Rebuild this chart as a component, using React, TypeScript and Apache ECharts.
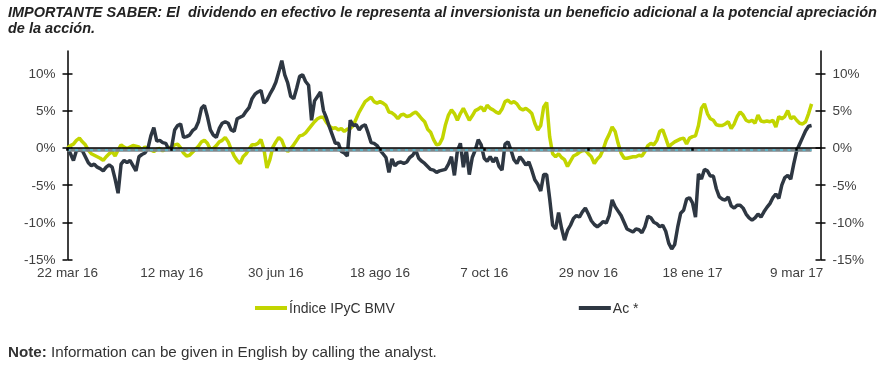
import React, { useEffect, useRef } from 'react';
import * as echarts from 'echarts';

const tickLabels = ['22 mar 16', '12 may 16', '30 jun 16', '18 ago 16', '7 oct 16', '29 nov 16', '18 ene 17', '9 mar 17'];
const labelStep = 35;
const categoryCount = 254;
const categories = Array.from({ length: categoryCount }, (_, i) => String(i));
const yTicks = [-15, -10, -5, 0, 5, 10];
const seriesNames = ['Índice IPyC BMV', 'Ac *'];

const ipyc = [
  0.0, 0.3, 0.5, 1.0, 1.3, 0.8, 0.4, -0.3, -0.8, -1.0,
  -1.2, -1.4, -1.7, -1.2, -0.8, -0.5, -1.1, -0.3, 0.4, 0.1,
  -0.1, 0.1, 0.3, 0.2, 0.1, -0.3, 0.1, -0.1, -0.3, -0.5,
  -0.2, -0.1, -0.4, -0.2, 0.0, 0.1, 0.4, 0.5, 0.0, -0.7,
  -1.1, -1.0, -0.6, -0.2, 0.2, 0.8, 1.0, 0.6, -0.2, -0.1,
  0.3, 0.8, 1.0, 1.4, 0.8, -0.2, -1.1, -1.7, -2.1, -1.2,
  -0.8, -0.2, 0.4, 0.4, 0.6, 1.1, -0.2, -2.7, -1.6, 0.1,
  0.8, 1.4, 1.0, 0.0, -0.5, -0.1, 0.4, 1.0, 1.6, 1.7,
  2.0, 2.5, 3.0, 3.5, 3.9, 4.1, 4.1, 3.4, 2.9, 2.6,
  2.7, 2.4, 2.6, 2.2, 2.5, 2.6, 3.0, 3.9, 4.8, 5.5,
  6.2, 6.5, 6.8, 6.2, 6.0, 6.2, 6.0, 5.7, 4.8, 4.7,
  4.4, 3.9, 4.4, 4.5, 4.2, 4.3, 4.6, 4.8, 4.4, 3.9,
  3.5, 2.5, 2.1, 1.1, 0.4, 0.5, 1.3, 3.1, 4.4, 5.1,
  4.6, 3.7, 4.6, 5.3, 4.5, 3.7, 4.3, 5.0, 5.2, 5.5,
  4.9, 5.7, 5.3, 5.1, 4.8, 4.6, 5.2, 6.2, 6.4, 6.0,
  6.2, 5.9, 5.3, 5.1, 5.3, 5.0, 4.6, 3.3, 2.4, 3.0,
  5.5, 6.1, 1.5, -0.8, -1.2, -0.8, -1.3, -1.6, -2.5, -1.8,
  -1.1, -0.9, -0.6, -0.4, -0.3, -0.8, -1.2, -2.1, -1.5, -1.1,
  -0.2, 1.0, 1.8, 2.8, 2.2, 0.6, -0.7, -1.4, -1.4, -1.3,
  -1.2, -1.2, -1.0, -1.1, -0.5, 0.3, 0.6, 0.4, 1.0, 2.2,
  2.4, 1.3, 0.1, 0.5, 0.8, 1.0, 1.2, 1.3, 0.5, 1.3,
  1.5, 1.6, 3.0, 5.3, 5.9, 4.6, 3.9, 3.7, 3.1, 3.0,
  3.0, 3.2, 3.5, 2.6, 3.2, 4.2, 4.8, 4.4, 3.7, 3.5,
  3.7, 3.3, 4.4, 3.6, 3.5, 3.6, 3.5, 3.7, 2.8, 4.2,
  3.9, 4.2, 5.0, 3.9, 4.2, 3.7, 3.3, 3.2, 3.5, 4.6,
  5.9,
];

const ac = [
  0.0, -0.8, -1.7, -0.4, -0.3, -0.4, -1.2, -2.0, -2.4, -2.2,
  -2.6, -2.8, -3.1, -2.6, -2.3, -2.6, -4.2, -6.1, -2.2, -1.7,
  -2.0, -1.7, -2.4, -3.1, -1.2, -0.9, -0.7, -0.1, 1.6, 2.7,
  0.9, 1.0, 0.7, 0.6, -0.2, 0.1, 2.4, 3.0, 3.2, 1.4,
  1.5, 1.7, 2.3, 2.6, 3.5, 5.3, 5.7, 4.2, 2.4, 1.7,
  1.4, 2.6, 3.3, 3.5, 3.3, 2.4, 2.2, 3.9, 4.1, 4.3,
  4.9, 5.4, 6.6, 7.2, 7.5, 7.7, 6.0, 6.4, 7.2, 7.9,
  8.8, 10.2, 11.7, 9.8, 8.7, 6.9, 6.6, 8.0, 9.6, 9.8,
  8.9, 8.4, 3.7, 6.3, 6.9, 7.5, 5.0, 4.0, 2.8, 1.7,
  0.6, 0.6, -0.5, -0.7, -1.1, 3.7, 3.0, 3.1, 2.4, 2.9,
  3.1, 2.0, 0.7, 0.6, 0.3, -0.3, -0.8, -1.3, -3.3, -1.5,
  -2.4, -2.0, -1.9, -2.1, -1.9, -1.3, -1.0, -0.3, -1.4, -1.8,
  -2.1, -2.5, -2.9, -3.0, -3.3, -3.1, -3.0, -2.9, -2.2, -1.2,
  -3.7, -0.4, 0.6, -2.6, -0.3, -3.6, -1.3, -0.3, 1.1, 0.4,
  -1.4, -1.8, -1.2, -1.9, -1.3, -2.5, -3.0, 0.5, 0.8, -0.3,
  -1.6, -2.1, -1.2, -1.7, -2.3, -1.9, -3.0, -4.3, -4.9, -5.8,
  -3.6, -3.6, -6.8, -10.4, -10.9, -8.7, -10.8, -12.4, -11.1, -10.4,
  -9.5, -9.1, -9.3, -8.6, -8.1, -8.9, -9.8, -10.3, -10.6, -10.3,
  -9.9, -10.1, -9.1, -7.0, -7.9, -8.5, -9.1, -10.0, -10.9, -11.1,
  -11.3, -10.9, -11.0, -11.4, -10.6, -9.2, -9.4, -10.0, -10.2, -10.6,
  -10.4, -11.2, -12.8, -13.6, -13.0, -10.7, -8.8, -8.4, -6.9, -6.7,
  -7.4, -9.3, -3.5, -4.2, -2.9, -3.1, -3.8, -3.8, -5.5, -6.6,
  -6.9, -7.0, -6.6, -7.8, -8.1, -7.7, -7.7, -8.1, -8.9, -9.4,
  -9.7, -9.4, -8.9, -9.3, -8.6, -8.0, -7.5, -6.7, -6.2, -6.8,
  -5.0, -4.0, -3.7, -4.2, -2.2, -0.4, 0.5, 1.4, 2.3, 2.9,
  3.0,
];

const titleText =
  'IMPORTANTE SABER: El  dividendo en efectivo le representa al inversionista un beneficio adicional a la potencial apreciación\nde la acción.';
const noteText = '{b|Note:} Information can be given in English by calling the analyst.';

export default function App() {
  const ref = useRef<HTMLDivElement>(null);
  useEffect(() => {
    if (!ref.current) return;
    const chart = echarts.init(ref.current, null, { renderer: 'svg' });
    const font = "'Liberation Sans', Arial, sans-serif";
    const labelColor = '#404040';
    const yBase = {
      type: 'value',
      min: -15,
      max: 13,
      interval: 5,
      splitLine: { show: false },
    };
    const lastIdx = ac.length - 1;
    chart.setOption({
      animation: false,
      textStyle: { fontFamily: font },
      title: [
        {
          text: titleText,
          left: 8,
          top: 4,
          padding: 0,
          textStyle: {
            fontFamily: font,
            fontSize: 14.5,
            fontWeight: 'bold',
            fontStyle: 'italic',
            color: '#222',
            lineHeight: 16,
          },
        },
        {
          text: noteText,
          left: 8,
          top: 344,
          padding: 0,
          textStyle: {
            fontFamily: font,
            fontSize: 15.2,
            fontWeight: 'normal',
            color: '#333',
            rich: { b: { fontFamily: font, fontSize: 15.2, fontWeight: 'bold', color: '#333' } },
          },
        },
      ],
      legend: {
        data: seriesNames,
        left: 255,
        top: 301,
        padding: 0,
        itemWidth: 32,
        itemHeight: 4,
        itemGap: 184,
        icon: 'rect',
        textStyle: { fontFamily: font, fontSize: 14, color: '#333', padding: [0, 0, 0, -3] },
      },
      grid: { left: 67.5, width: 753, top: 51, height: 208.5 },
      xAxis: [
        {
          type: 'category',
          data: categories,
          boundaryGap: false,
          position: 'bottom',
          axisLine: { show: false, onZero: false },
          axisTick: { show: false },
          axisLabel: {
            interval: labelStep - 1,
            margin: 6,
            color: labelColor,
            fontSize: 13.5,
            fontFamily: font,
            formatter: (_v: string, idx: number) => tickLabels[idx / labelStep] ?? '',
          },
        },
        {
          type: 'category',
          data: categories,
          boundaryGap: false,
          position: 'bottom',
          z: 5,
          axisLine: { show: true, onZero: true, onZeroAxisIndex: 0, lineStyle: { color: '#000', width: 1.5 } },
          axisTick: { show: true, interval: labelStep - 1, length: 3, lineStyle: { color: '#000', width: 2.5 } },
          axisLabel: { show: false },
        },
      ],
      yAxis: [
        {
          ...yBase,
          position: 'left',
          axisLine: { show: true, lineStyle: { color: '#000', width: 1.5 } },
          axisTick: { show: true, length: 5, customValues: yTicks, lineStyle: { color: '#000', width: 1.5 } },
          axisLabel: {
            customValues: yTicks,
            margin: 12,
            color: labelColor,
            fontSize: 13.5,
            fontFamily: font,
            formatter: (v: number) => (v > 10.5 ? '' : `${v}%`),
          },
        },
        {
          ...yBase,
          position: 'right',
          axisLine: { show: true, lineStyle: { color: '#000', width: 1.5 } },
          axisTick: { show: true, length: 5, customValues: yTicks, lineStyle: { color: '#000', width: 1.5 } },
          axisLabel: {
            customValues: yTicks,
            margin: 12,
            color: labelColor,
            fontSize: 13.5,
            fontFamily: font,
            formatter: (v: number) => (v > 10.5 ? '' : `${v}%`),
          },
        },
        {
          ...yBase,
          position: 'left',
          axisLine: { show: false },
          axisTick: { show: true, inside: true, length: 5, customValues: yTicks, lineStyle: { color: '#000', width: 1.5 } },
          axisLabel: { show: false },
        },
        {
          ...yBase,
          position: 'right',
          axisLine: { show: false },
          axisTick: { show: true, inside: true, length: 5, customValues: yTicks, lineStyle: { color: '#000', width: 1.5 } },
          axisLabel: { show: false },
        },
      ],
      series: [
        {
          name: seriesNames[0],
          type: 'line',
          data: ipyc,
          xAxisIndex: 0,
          yAxisIndex: 0,
          showSymbol: false,
          symbol: 'none',
          color: '#c2d500',
          lineStyle: { color: '#c2d500', width: 3.5 },
          z: 2,
        },
        {
          name: seriesNames[1],
          type: 'line',
          data: ac,
          xAxisIndex: 0,
          yAxisIndex: 0,
          showSymbol: false,
          symbol: 'none',
          color: '#2e3742',
          lineStyle: { color: '#2e3742', width: 3.5 },
          z: 3,
          markLine: {
            silent: true,
            symbol: 'none',
            label: { show: false },
            z: 4,
            data: [
              [
                { coord: [categories[0], -0.25], lineStyle: { color: '#7d878c', width: 3.5, type: 'solid' } },
                { coord: [categories[lastIdx], -0.25] },
              ],
              [
                { coord: [categories[0], -0.25], lineStyle: { color: '#56c1d8', width: 1.5, type: [3, 4.5] } },
                { coord: [categories[lastIdx], -0.25] },
              ],
            ],
          },
        },
      ],
    });
    return () => chart.dispose();
  }, []);
  return <div ref={ref} style={{ position: 'fixed', left: 0, top: 0, width: 890, height: 368 }} />;
}
